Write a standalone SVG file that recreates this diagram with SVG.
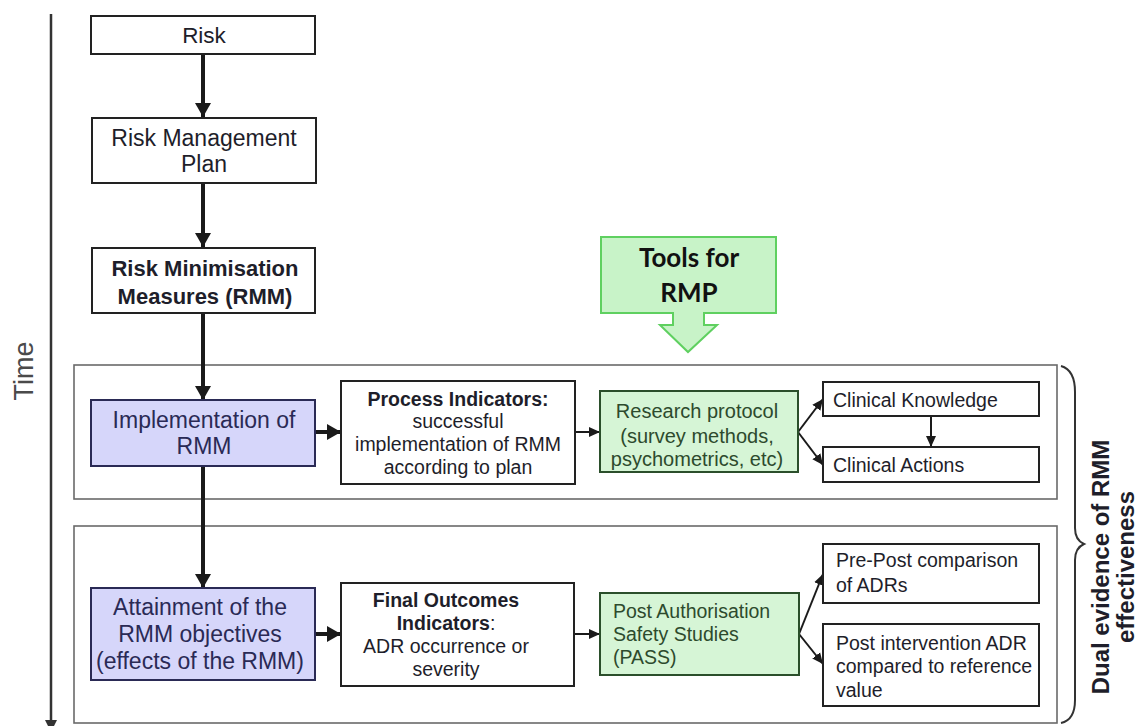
<svg xmlns="http://www.w3.org/2000/svg" width="1139" height="726" viewBox="0 0 1139 726">
  <style>
    .box { fill: #ffffff; stroke: #222222; stroke-width: 2; }
    .blue { fill: #d6d6fa; stroke: #2a2a55; stroke-width: 2; }
    .green { fill: #d6f5d6; stroke: #2b4f2b; stroke-width: 2; }
    .frame { fill: none; stroke: #6a6a6a; stroke-width: 1.6; }
    .t { font-family: "Liberation Sans", Arial, sans-serif; fill: #1e1e2a; }
    .c { text-anchor: middle; }
    .b { font-weight: bold; }
    .navy { fill: #2a2a55; }
    .dkgreen { fill: #2d4a2d; }
    .thick { stroke: #1a1a1a; stroke-width: 4; fill: none; }
    .thin { stroke: #1a1a1a; stroke-width: 2; fill: none; }
  </style>
  <defs>
    <marker id="bigHead" markerUnits="userSpaceOnUse" markerWidth="16" markerHeight="16" refX="14" refY="8" orient="auto">
      <path d="M0,0 L14,8 L0,16 Z" fill="#1a1a1a"/>
    </marker>
    <marker id="smallHead" markerUnits="userSpaceOnUse" markerWidth="12" markerHeight="12" refX="11" refY="6" orient="auto">
      <path d="M0,1 L11,6 L0,11 Z" fill="#1a1a1a"/>
    </marker>
  </defs>

  <!-- time axis -->
  <g id="time-axis">
    <line x1="51" y1="14" x2="51" y2="726" stroke="#333" stroke-width="2.5"/>
    <path d="M45,720 L57,720 L51,732 Z" fill="#333"/>
    <text class="t c" x="0" y="0" font-size="27" transform="translate(33,371) rotate(-90)" style="fill:#4a4a4a">Time</text>
  </g>

  <!-- grouping frames -->
  <g id="frame-process">
    <rect class="frame" x="74" y="365" width="983" height="134"/>
  </g>
  <g id="frame-outcome">
    <rect class="frame" x="74" y="526" width="983" height="197"/>
  </g>

  <!-- connectors -->
  <g id="connectors">
    <line class="thick" x1="203" y1="54" x2="203" y2="117" marker-end="url(#bigHead)"/>
    <line class="thick" x1="203" y1="183" x2="203" y2="247" marker-end="url(#bigHead)"/>
    <line class="thick" x1="203" y1="313" x2="203" y2="400" marker-end="url(#bigHead)"/>
    <line class="thick" x1="203" y1="466" x2="203" y2="588" marker-end="url(#bigHead)"/>
    <line class="thick" x1="315" y1="432" x2="341" y2="432" marker-end="url(#bigHead)"/>
    <line class="thin" x1="575" y1="432" x2="600" y2="432" marker-end="url(#smallHead)"/>
    <line class="thin" x1="798" y1="432" x2="823" y2="399" marker-end="url(#smallHead)"/>
    <line class="thin" x1="798" y1="432" x2="823" y2="465" marker-end="url(#smallHead)"/>
    <line class="thin" x1="931" y1="416" x2="931" y2="447" marker-end="url(#smallHead)"/>
    <line class="thick" x1="315" y1="634" x2="341" y2="634" marker-end="url(#bigHead)"/>
    <line class="thin" x1="574" y1="634" x2="600" y2="634" marker-end="url(#smallHead)"/>
    <line class="thin" x1="799" y1="634" x2="823" y2="574" marker-end="url(#smallHead)"/>
    <line class="thin" x1="799" y1="634" x2="823" y2="664" marker-end="url(#smallHead)"/>
  </g>

  <!-- nodes -->
  <g id="risk">
    <rect class="box" x="91" y="16" width="224" height="38"/>
    <text class="t c" x="204" y="43" font-size="22.5">Risk</text>
  </g>
  <g id="risk-management-plan">
    <rect class="box" x="92" y="118" width="224" height="65"/>
    <text class="t c" x="204" y="146" font-size="23">Risk Management</text>
    <text class="t c" x="204" y="172" font-size="23">Plan</text>
  </g>
  <g id="rmm">
    <rect class="box" x="92" y="248" width="223" height="65"/>
    <text class="t c b" x="205" y="276" font-size="22">Risk Minimisation</text>
    <text class="t c b" x="205" y="304" font-size="22">Measures (RMM)</text>
  </g>
  <g id="tools-for-rmp">
    <path d="M601,237 L776,237 L776,313 L704,313 L704,325 L717,325 L688,352 L660,325 L673,325 L673,313 L601,313 Z" fill="#c8f3c8" stroke="#5fd060" stroke-width="2"/>
    <text class="t c b" x="689" y="267" font-size="26" style="font-family:Lato,'Open Sans',sans-serif;fill:#111">Tools for</text>
    <text class="t c b" x="689" y="302" font-size="26" style="font-family:Lato,'Open Sans',sans-serif;fill:#111">RMP</text>
  </g>
  <g id="implementation">
    <rect class="blue" x="91" y="400" width="224" height="66"/>
    <text class="t c navy" x="204" y="428" font-size="23">Implementation of</text>
    <text class="t c navy" x="204" y="454" font-size="23">RMM</text>
  </g>
  <g id="process-indicators">
    <rect class="box" x="341" y="381" width="234" height="103"/>
    <text class="t c b" x="458" y="406" font-size="19.5">Process Indicators:</text>
    <text class="t c" x="458" y="428" font-size="19.5">successful</text>
    <text class="t c" x="458" y="451" font-size="19.5">implementation of RMM</text>
    <text class="t c" x="458" y="474" font-size="19.5">according to plan</text>
  </g>
  <g id="research-protocol">
    <rect class="green" x="600" y="391" width="198" height="81"/>
    <text class="t c dkgreen" x="697" y="418" font-size="20">Research protocol</text>
    <text class="t c dkgreen" x="697" y="443" font-size="20">(survey methods,</text>
    <text class="t c dkgreen" x="697" y="466" font-size="20">psychometrics, etc)</text>
  </g>
  <g id="clinical-knowledge">
    <rect class="box" x="823" y="382" width="216" height="34"/>
    <text class="t" x="833" y="407" font-size="19.5">Clinical Knowledge</text>
  </g>
  <g id="clinical-actions">
    <rect class="box" x="823" y="447" width="216" height="35"/>
    <text class="t" x="833" y="472" font-size="19.5">Clinical Actions</text>
  </g>
  <g id="attainment">
    <rect class="blue" x="91" y="588" width="224" height="92"/>
    <text class="t c navy" x="200" y="615" font-size="23">Attainment of the</text>
    <text class="t c navy" x="200" y="642" font-size="23">RMM objectives</text>
    <text class="t c navy" x="200" y="669" font-size="23">(effects of the RMM)</text>
  </g>
  <g id="final-outcomes">
    <rect class="box" x="341" y="583" width="233" height="103"/>
    <text class="t c b" x="446" y="607" font-size="19.5">Final Outcomes</text>
    <text class="t c" x="446" y="630" font-size="19.5"><tspan class="b">Indicators</tspan>:</text>
    <text class="t c" x="446" y="653" font-size="19.5">ADR occurrence or</text>
    <text class="t c" x="446" y="676" font-size="19.5">severity</text>
  </g>
  <g id="pass">
    <rect class="green" x="600" y="593" width="199" height="82"/>
    <text class="t dkgreen" x="613" y="618" font-size="19.5">Post Authorisation</text>
    <text class="t dkgreen" x="613" y="641" font-size="19.5">Safety Studies</text>
    <text class="t dkgreen" x="613" y="664" font-size="19.5">(PASS)</text>
  </g>
  <g id="pre-post">
    <rect class="box" x="823" y="544" width="216" height="59"/>
    <text class="t" x="836" y="567" font-size="19.5">Pre-Post comparison</text>
    <text class="t" x="836" y="592" font-size="19.5">of ADRs</text>
  </g>
  <g id="post-intervention">
    <rect class="box" x="823" y="624" width="216" height="82"/>
    <text class="t" x="836" y="650" font-size="19.5">Post intervention ADR</text>
    <text class="t" x="836" y="673" font-size="19.5">compared to reference</text>
    <text class="t" x="836" y="697" font-size="19.5">value</text>
  </g>

  <!-- brace and side label -->
  <g id="dual-evidence">
    <path d="M1061,366 Q1075,370 1075,392 L1075,528 Q1075,540 1084,544 Q1075,548 1075,560 L1075,700 Q1075,720 1061,723" fill="none" stroke="#333" stroke-width="2"/>
    <text class="t c b" x="0" y="0" font-size="24" transform="translate(1109,567) rotate(-90)">Dual evidence of RMM</text>
    <text class="t c b" x="0" y="0" font-size="24" transform="translate(1134,567) rotate(-90)">effectiveness</text>
  </g>
</svg>
